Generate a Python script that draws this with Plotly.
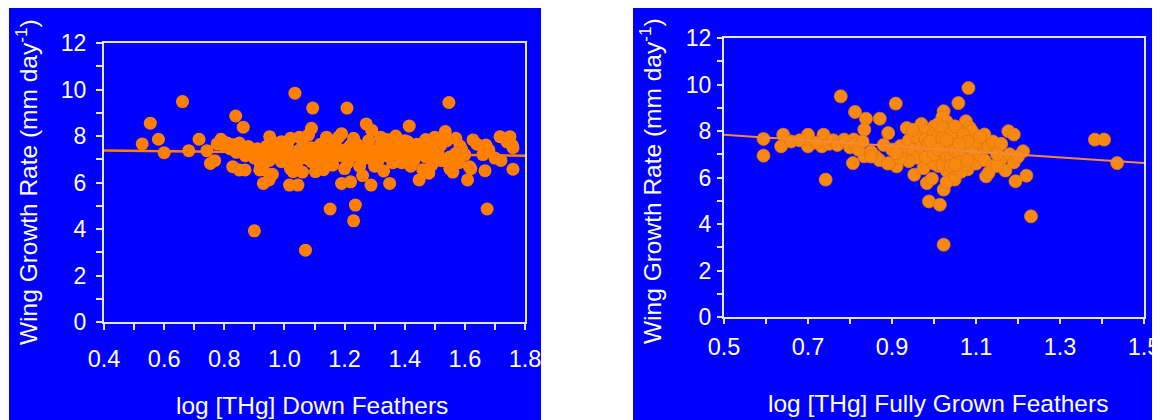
import plotly.graph_objects as go

# ---------------- data ----------------
# Left panel: log [THg] down feathers vs wing growth rate
down_x = [0.527, 0.554, 0.581, 0.60, 0.661, 0.682, 0.716, 0.742, 0.754, 0.768, 0.789, 0.776,
          0.838, 0.828, 0.863, 0.85, 0.869, 0.90, 0.93, 0.949, 0.951, 0.918, 1.035, 1.017,
          1.045, 1.029, 1.07, 1.094, 1.09, 1.103, 1.152, 1.208, 1.19, 1.22, 1.236, 1.23,
          1.272, 1.288, 1.35, 1.415, 1.448, 1.547, 1.535, 1.584, 1.609, 1.615, 1.674, 1.667,
          1.717, 1.75, 1.76, 1.757, 1.627, 1.67,
          0.80, 0.81, 0.82, 0.83, 0.84, 0.85, 0.86, 0.87, 0.88, 0.89, 0.90, 0.91, 0.92, 0.93,
          0.94, 0.95, 0.96, 0.97, 0.98, 0.99, 1.00, 1.01, 1.02, 1.03, 1.04, 1.05, 1.06, 1.07,
          1.08, 1.09, 1.10, 1.11, 1.12, 1.13, 1.14, 1.15, 1.16, 1.17, 1.18, 1.19, 1.20, 1.21,
          1.22, 1.23, 1.24, 1.25, 1.26, 1.27, 1.28, 1.29, 1.30, 1.31, 1.32, 1.33, 1.34, 1.35,
          1.36, 1.37, 1.38, 1.39, 1.40, 1.41, 1.42, 1.43, 1.44, 1.45, 1.46, 1.47, 1.48, 1.49,
          1.50, 1.51, 1.52, 1.53, 1.54, 1.55, 1.56, 1.57, 1.58, 1.59, 1.60, 1.62, 1.64, 1.66,
          1.68, 1.70, 1.72, 1.74, 1.76,
          0.93, 0.96, 0.99, 1.02, 1.05, 1.06, 1.09, 1.11, 1.13, 1.14, 1.16, 1.18, 1.20, 1.22,
          1.24, 1.26, 1.27, 1.30, 1.32, 1.33, 1.35, 1.37, 1.39, 1.40, 1.42, 1.44, 1.46, 1.48,
          1.50, 1.52, 1.53, 1.55, 1.57, 1.00, 1.04, 1.08, 1.12, 1.17, 1.21, 1.25, 1.29, 1.34,
          1.38, 1.43, 1.47, 1.51]
down_y = [7.66, 8.55, 7.86, 7.28, 9.48, 7.37, 7.86, 7.37, 6.82, 6.94, 7.86, 7.66,
          8.86, 6.68, 8.38, 6.54, 6.54, 3.92, 5.96, 6.11, 7.97, 6.54, 9.84, 5.89,
          5.89, 6.47, 3.09, 9.20, 8.33, 6.47, 4.86, 9.20, 5.96, 6.03, 5.03, 4.35,
          8.52, 5.89, 5.96, 8.43, 6.11, 9.44, 8.19, 7.57, 6.11, 6.68, 4.86, 6.51,
          7.97, 7.97, 6.57, 7.61, 7.83, 7.61,
          7.55, 7.70, 7.45, 7.62, 7.30, 7.70, 7.50, 7.15, 7.55, 7.35, 7.05, 7.45, 6.80, 7.20,
          7.55, 6.95, 7.35, 7.10, 7.70, 6.90, 7.30, 7.55, 7.90, 7.10, 6.75, 7.40, 7.80, 7.05,
          8.05, 7.50, 7.20, 6.80, 7.65, 7.35, 7.95, 6.95, 7.50, 7.75, 7.15, 8.10, 7.40, 6.85,
          7.60, 7.90, 7.20, 6.70, 7.50, 7.05, 7.80, 8.25, 7.35, 6.90, 7.60, 7.15, 7.85, 7.45,
          6.85, 8.00, 7.30, 7.60, 7.05, 7.75, 7.40, 6.95, 7.65, 7.20, 6.55, 7.85, 7.50, 6.75,
          7.95, 7.30, 7.60, 6.95, 7.80, 7.10, 6.45, 7.90, 6.85, 7.40, 7.20, 6.60, 7.65, 7.20,
          7.40, 7.05, 6.95, 7.75, 7.50,
          6.55, 6.35, 7.75, 6.60, 7.95, 6.45, 6.90, 7.45, 6.55, 7.05, 6.75, 7.95, 6.60, 7.10,
          7.65, 6.30, 7.40, 6.70, 7.95, 6.50, 7.10, 7.30, 6.85, 7.80, 6.70, 7.35, 7.70, 6.40,
          7.15, 6.95, 7.90, 6.60, 7.25, 6.95, 7.20, 7.30, 7.05, 7.20, 7.45, 7.15, 7.00, 7.20,
          7.70, 7.50, 7.10, 7.55]
down_fit_x = [0.4, 1.8]
down_fit_y = [7.38, 7.15]

# Right panel: log [THg] fully grown feathers vs wing growth rate
grown_x = [0.594, 0.594, 0.641, 0.636, 0.70, 0.70, 0.737, 0.733, 0.742, 0.778, 0.786, 0.812,
           0.809, 0.807, 0.838, 0.834, 0.834, 0.871, 0.86, 0.891, 0.909, 0.911, 0.894, 0.935,
           0.96, 0.953, 0.983, 0.988, 1.014, 1.023, 1.023, 1.023, 1.058, 1.082, 1.076, 1.212,
           1.22, 1.231, 1.194, 1.177, 1.383, 1.405, 1.436, 1.124, 1.049,
           0.92, 0.93, 0.94, 0.95, 0.96, 0.97, 0.98, 0.99, 0.99, 1.00, 1.00, 1.00, 1.01, 1.01,
           1.01, 1.02, 1.02, 1.02, 1.03, 1.03, 1.03, 1.04, 1.04, 1.04, 1.05, 1.05, 1.05, 1.06,
           1.06, 1.06, 1.07, 1.07, 1.07, 1.08, 1.08, 1.08, 1.09, 1.09, 1.10, 1.10, 1.10, 1.11,
           1.11, 1.12, 1.12, 1.13, 1.14, 1.14, 1.15, 1.16, 1.16, 1.17, 1.18, 1.19, 1.19, 1.20,
           0.97, 0.98, 1.02, 1.04, 1.06, 0.975, 0.995, 1.03, 1.05, 1.13, 1.15, 0.96, 0.94,
           0.92, 0.95, 1.085, 1.12, 1.15,
           0.66, 0.68, 0.72, 0.75, 0.76, 0.77, 0.79, 0.80, 0.81, 0.82, 0.83, 0.85, 0.87, 0.88,
           0.89, 0.90, 0.91, 0.85,
           0.97, 0.98, 0.99, 1.00, 1.00, 1.01, 1.01, 1.02, 1.02, 1.03, 1.03, 1.03, 1.04, 1.04,
           1.05, 1.05, 1.06, 1.06, 1.07, 1.07, 1.08, 1.09, 1.09, 1.10, 1.11, 0.985, 1.015,
           1.045, 1.065, 1.075,
           1.00, 1.00, 1.01, 1.01, 1.02, 1.02, 1.03, 1.03, 1.04, 1.04, 1.05, 1.05, 1.06, 1.06,
           1.07, 1.08, 1.08, 0.99, 0.99, 0.98, 1.00, 1.01, 1.02, 1.03, 1.04, 1.05, 1.06]
grown_y = [7.66, 6.94, 7.84, 7.34, 7.84, 7.34, 7.84, 7.34, 5.91, 9.49, 7.63, 8.82,
           7.63, 6.62, 8.53, 8.06, 6.91, 8.53, 6.91, 7.91, 9.18, 6.48, 6.62, 8.13,
           7.91, 6.12, 5.76, 4.97, 4.83, 3.11, 5.48, 8.85, 9.20, 9.85, 8.42, 7.13,
           6.08, 4.33, 5.84, 7.99, 7.63, 7.63, 6.62, 6.05, 5.91,
           7.35, 7.00, 7.60, 7.20, 6.85, 7.50, 7.10, 7.80, 6.70, 8.20, 7.40, 6.90, 7.65, 7.05,
           6.50, 7.90, 7.25, 6.80, 8.40, 7.50, 6.30, 7.70, 7.10, 6.60, 7.95, 7.35, 6.10, 7.60,
           6.90, 6.45, 8.00, 7.25, 6.70, 7.75, 7.00, 6.35, 7.50, 6.85, 7.80, 7.20, 6.60, 7.40,
           6.95, 7.65, 6.75, 7.30, 7.55, 6.50, 7.10, 6.80, 7.45, 6.30, 7.00, 6.65, 7.85, 6.90,
           8.30, 8.00, 8.60, 7.45, 7.95, 6.40, 5.95, 5.80, 6.05, 6.20, 6.50, 7.75, 6.70,
           6.85, 8.05, 8.15, 7.85, 7.00,
           7.55, 7.60, 7.50, 7.45, 7.60, 7.40, 7.55, 7.30, 7.45, 7.20, 7.55, 7.10, 6.75, 7.40,
           6.60, 7.20, 7.05, 6.90,
           7.30, 7.65, 7.20, 7.70, 7.15, 8.00, 7.35, 7.55, 7.00, 7.80, 7.15, 6.70, 7.35, 8.05,
           7.55, 6.80, 7.25, 7.75, 7.50, 6.95, 7.35, 7.20, 8.00, 7.55, 7.75, 7.45, 6.85,
           6.40, 6.25, 6.55,
           7.90, 6.60, 8.30, 7.80, 6.55, 8.15, 7.35, 6.95, 7.90, 6.85, 7.15, 8.20, 7.05, 6.65,
           7.85, 6.75, 7.55, 7.05, 7.55, 6.85, 7.00, 7.20, 7.70, 7.60, 6.50, 6.55, 7.45]
grown_fit_x = [0.5, 1.5]
grown_fit_y = [7.84, 6.62]

y_title = "Wing Growth Rate (mm day<sup>-1</sup>)"
left_x_title = "log [THg] Down Feathers"
right_x_title = "log [THg] Fully Grown Feathers"

# ---------------- figure ----------------
# the page body has an 8px margin, so the figure covers window pixels 8..1160 x 8..420
OFF = 8
W, H = 1152, 412
BLUE = "#0000FF"
AXC = "#E4E4FF"
FONT = "Liberation Sans, Arial, sans-serif"


def px(x):
    return (x - OFF) / W


def py(y):
    return 1 - (y - OFF) / H


fig = go.Figure()

fig.add_trace(go.Scatter(x=down_x, y=down_y, mode="markers",
                         marker=dict(size=13, color="#FF8000", line=dict(width=0)),
                         xaxis="x", yaxis="y", showlegend=False))
fig.add_trace(go.Scatter(x=down_fit_x, y=down_fit_y, mode="lines",
                         line=dict(color="#FF8000", width=2.5),
                         xaxis="x", yaxis="y", showlegend=False))
fig.add_trace(go.Scatter(x=grown_x, y=grown_y, mode="markers",
                         marker=dict(size=13, color="#F88910", line=dict(width=0.8, color="#E07A10")),
                         xaxis="x2", yaxis="y2", showlegend=False))
fig.add_trace(go.Scatter(x=grown_fit_x, y=grown_fit_y, mode="lines",
                         line=dict(color="#F5883A", width=2),
                         xaxis="x2", yaxis="y2", showlegend=False))

tickfont = dict(family=FONT, size=23.5, color="white")
ytickfont = dict(family=FONT, size=23, color="white")
titlefont = dict(family=FONT, size=24.5, color="white")

common_axis = dict(showgrid=False, zeroline=False, showline=True, linecolor=AXC,
                   linewidth=2, mirror=True, ticks="outside", tickcolor=AXC,
                   tickwidth=1.5, automargin=False, ticklabeloverflow="allow")

fig.update_layout(
    width=W, height=H,
    margin=dict(l=0, r=0, t=0, b=0),
    paper_bgcolor="white",
    plot_bgcolor="rgba(0,0,0,0)",
    showlegend=False,
    xaxis=dict(domain=[px(104), px(525)], range=[0.4, 1.8], tick0=0.4, dtick=0.2,
               tickformat=".1f", ticklen=6, tickfont=tickfont, anchor="y",
               ticklabelstandoff=9,
               minor=dict(dtick=0.1, tick0=0.4, ticks="outside", ticklen=6,
                          tickcolor=AXC, tickwidth=1.5),
               **common_axis),
    yaxis=dict(domain=[py(322), py(43)], range=[0, 12], tick0=0, dtick=2,
               ticklen=6, tickfont=ytickfont, anchor="x", ticklabelstandoff=5,
               minor=dict(dtick=1, tick0=0, ticks="outside", ticklen=6,
                          tickcolor=AXC, tickwidth=1.5),
               **common_axis),
    xaxis2=dict(domain=[px(724), px(1144)], range=[0.5, 1.5], tick0=0.5, dtick=0.2,
                tickformat=".1f", ticklen=5, tickfont=tickfont, anchor="y2",
                ticklabelstandoff=3,
                minor=dict(dtick=0.1, tick0=0.5, ticks="outside", ticklen=5,
                           tickcolor=AXC, tickwidth=1.5),
                **common_axis),
    yaxis2=dict(domain=[py(317), py(38)], range=[0, 12], tick0=0, dtick=2,
                ticklen=5, tickfont=ytickfont, anchor="x2", ticklabelstandoff=1,
                minor=dict(dtick=1, tick0=0, ticks="outside", ticklen=5,
                           tickcolor=AXC, tickwidth=1.5),
                **common_axis),
    shapes=[
        dict(type="rect", xref="paper", yref="paper", x0=px(9), x1=px(541),
             y0=0, y1=1, fillcolor=BLUE, line=dict(width=0), layer="below"),
        dict(type="rect", xref="paper", yref="paper", x0=px(633), x1=1,
             y0=0, y1=1, fillcolor=BLUE, line=dict(width=0), layer="below"),
    ],
    annotations=[
        dict(text=y_title, xref="paper", yref="paper", x=px(26), y=py(182),
             textangle=-90, showarrow=False, xanchor="center", yanchor="middle",
             font=titlefont),
        dict(text=y_title, xref="paper", yref="paper", x=px(651), y=py(181),
             textangle=-90, showarrow=False, xanchor="center", yanchor="middle",
             font=titlefont),
        dict(text=left_x_title, xref="paper", yref="paper", x=px(312), y=py(405),
             showarrow=False, xanchor="center", yanchor="middle",
             font=titlefont),
        dict(text=right_x_title, xref="paper", yref="paper", x=px(938), y=py(403),
             showarrow=False, xanchor="center", yanchor="middle",
             font=titlefont),
    ],
)

fig.write_html("out.html")
